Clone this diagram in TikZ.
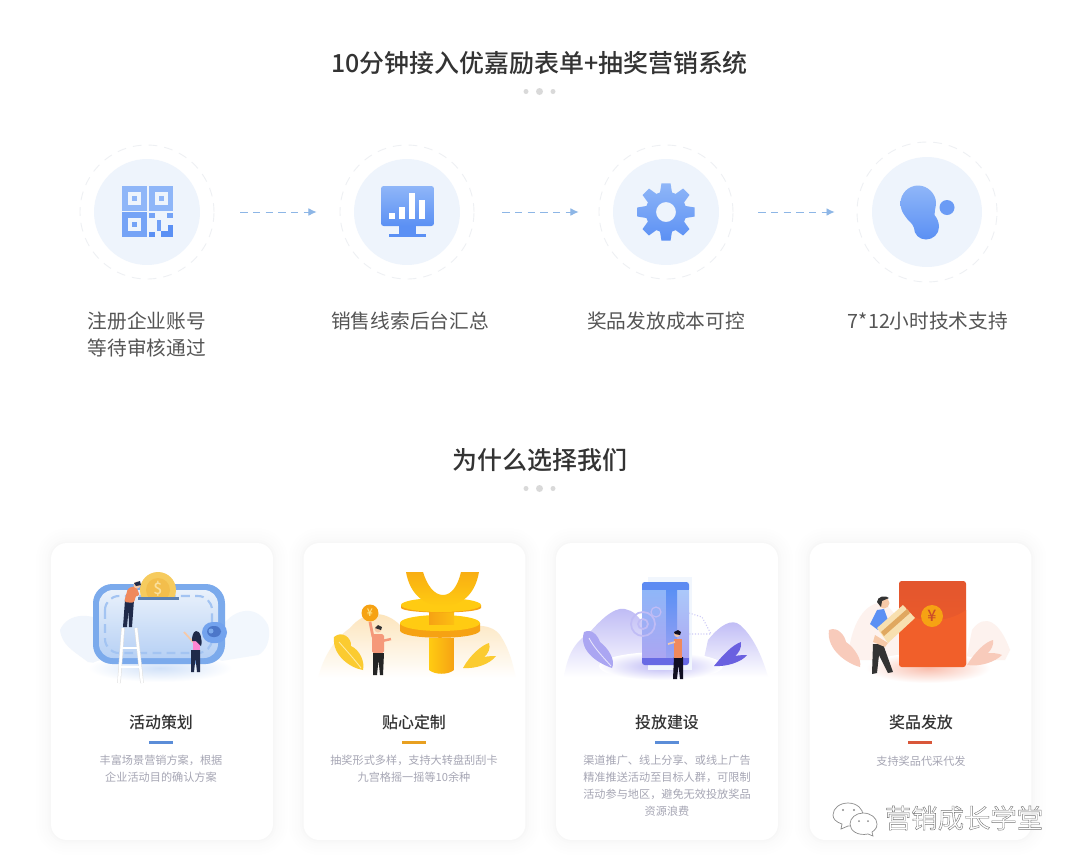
\documentclass[tikz,border=0pt]{standalone}
\usepackage{fontspec}
\setmainfont{Noto Sans CJK SC}[BoldFont={Noto Sans CJK SC Medium}]
\definecolor{titleink}{HTML}{333333}
\definecolor{stepink}{HTML}{555555}
\definecolor{descink}{HTML}{A6A6B4}
\definecolor{discblue}{HTML}{EEF4FC}
\definecolor{ringgrey}{HTML}{EEF0F3}
\definecolor{arrowblue}{HTML}{8DB6E6}
\definecolor{icontop}{HTML}{8FB6F8}
\definecolor{iconlow}{HTML}{5B90F4}
\definecolor{walletblue}{HTML}{7BAAEC}
\definecolor{paleblue}{HTML}{E9F1FB}
\definecolor{navyink}{HTML}{1F2A4A}
\definecolor{skin}{HTML}{F6C9A8}
\definecolor{shirtorange}{HTML}{F0895C}
\definecolor{coinpale}{HTML}{F6CB5E}
\definecolor{coinface}{HTML}{F3BE4C}
\definecolor{goldlight}{HTML}{FFCB12}
\definecolor{golddark}{HTML}{F6A213}
\definecolor{purplelight}{HTML}{ABA6F2}
\definecolor{purpledark}{HTML}{6A60E0}
\definecolor{redbag}{HTML}{EF5A30}
\definecolor{pinkleaf}{HTML}{F8CBBB}
\definecolor{cardtan}{HTML}{F8E0B0}
\definecolor{cardstripe}{HTML}{E0A860}
\definecolor{barblue}{HTML}{5B8DD8}
\definecolor{bargold}{HTML}{E8A020}
\definecolor{barred}{HTML}{D9573A}
\tikzset{
    cardbox/.style={rectangle, rounded corners=9pt, fill=white, inner sep=0pt,
        minimum width=4.44cm, minimum height=5.94cm,
        preaction={draw=black, draw opacity=0.003, line width=30*0.567pt},
        preaction={draw=black, draw opacity=0.004, line width=24*0.567pt},
        preaction={draw=black, draw opacity=0.004, line width=18*0.567pt},
        preaction={draw=black, draw opacity=0.005, line width=12*0.567pt},
        preaction={draw=black, draw opacity=0.006, line width=7*0.567pt},
        preaction={draw=black, draw opacity=0.008, line width=3*0.567pt}},
    headline/.style={font=\fontsize{14.2pt}{17pt}\selectfont\bfseries, text=titleink, inner sep=0pt},
    dotsmall/.style={circle, fill=black!15, inner sep=0pt, minimum size=0.1cm},
    dotbig/.style={circle, fill=black!15, inner sep=0pt, minimum size=0.14cm},
    disc/.style={circle, fill=discblue, inner sep=0pt, minimum size=2.12cm},
    ring/.style={circle, draw=ringgrey, dash pattern=on 5pt off 4pt, line width=0.5pt, inner sep=0pt, minimum size=2.68cm},
    flow/.style={draw=arrowblue, line width=0.55pt, yshift=0.02cm, dash pattern=on 4.2pt off 3pt, -{Latex[length=4.6pt,width=4.4pt]}},
    steplabel/.style={font=\fontsize{11.2pt}{15.3pt}\selectfont, text=stepink, align=center, inner sep=0pt},
    cardtitle/.style={font=\fontsize{9.1pt}{11pt}\selectfont\bfseries, text=titleink, inner sep=0pt},
    carddesc/.style={font=\fontsize{6.35pt}{9.64pt}\selectfont, text=descink, align=center, inner sep=0pt},
    iconfill/.style={top color=icontop, bottom color=iconlow},
}
\usetikzlibrary{arrows.meta}

\begin{document}
\begin{tikzpicture}[x=0.02cm, y=-0.02cm]
    \fill [white] (0, 0) rectangle (1080, 867);
    \useasboundingbox (0, 0) rectangle (1080, 867);

    \node [headline] (headflow) at (539.5, 63) {10分钟接入优嘉励表单+抽奖营销系统};
    \node [dotsmall] (dota1) at (526, 91.5) {};
    \node [dotbig] (dota2) at (539.5, 91.5) {};
    \node [dotsmall] (dota3) at (553, 91.5) {};

    \node [ring] (ringa) at (147, 212) {};
    \node [ring] (ringb) at (407, 212) {};
    \node [ring] (ringc) at (666, 212) {};
    \node [ring, minimum size=2.8cm] (ringd) at (927, 212) {};
    \node [disc] (disca) at (147, 212) {};
    \node [disc] (discb) at (407, 212) {};
    \node [disc] (discc) at (666, 212) {};
    \node [disc, minimum size=2.2cm] (discd) at (927, 212) {};

    \draw [flow, shorten <=0.52cm, shorten >=0.46cm] (ringa) -- (ringb);
    \draw [flow, shorten <=0.56cm, shorten >=0.40cm] (ringb) -- (ringc);
    \draw [flow, shorten <=0.50cm, shorten >=0.44cm] (ringc) -- (ringd);

    % code squares
    \fill [icontop] (122, 186) rectangle (147, 210.5);
    \fill [icontop] (148.5, 186) rectangle (173, 210.5);
    \fill [icontop!50!iconlow] (122, 212) rectangle (147, 237);
    \fill [discblue] (127.5, 192) rectangle (140.5, 204.5);
    \fill [icontop] (131.5, 196) rectangle (136.5, 200.5);
    \fill [discblue] (155, 192) rectangle (168, 204.5);
    \fill [icontop] (159, 196) rectangle (164, 200.5);
    \fill [discblue] (127.5, 218) rectangle (140.5, 231);
    \fill [icontop!50!iconlow] (131.5, 222) rectangle (136.5, 227);
    \fill [icontop!50!iconlow] (149, 213) rectangle (155, 218);
    \fill [icontop!50!iconlow] (167, 213) rectangle (173, 218);
    \fill [icontop!40!iconlow] (157, 220) rectangle (161, 231);
    \fill [iconlow] (149, 232) rectangle (155, 237);
    \fill [iconlow] (161, 231) rectangle (173, 237);
    \fill [iconlow] (168, 225) rectangle (173, 237);

    % screen
    \shade [iconfill, rounded corners=1.5pt] (381, 186) rectangle (434, 226);
    \fill [iconlow] (399, 226) rectangle (416, 235);
    \fill [iconlow] (389, 234) rectangle (426, 237);
    \fill [white] (389, 213) rectangle (395, 219);
    \fill [white] (399, 207) rectangle (405, 219);
    \fill [white] (409, 193) rectangle (415, 219);
    \fill [white] (419, 200) rectangle (425, 219);

    % gear
    \shade [iconfill, even odd rule, shift={(666, 212)}] (-17:20.5)
        \foreach \a in {0, 45, ..., 315} { -- (\a-17:20.5) -- (\a-9:29) -- (\a+9:29) -- (\a+17:20.5) }
        -- cycle (0, 0) circle [radius=10];

    % blob
    \shade [iconfill] (918, 185.5) .. controls (928, 185.5) and (936, 194) .. (936, 203)
        .. controls (936, 208) and (934, 211) .. (934.5, 215)
        .. controls (937, 218) and (939, 222) .. (939, 227)
        .. controls (939, 234) and (933, 239.5) .. (926, 239.5)
        .. controls (919, 239.5) and (914, 234) .. (914, 228)
        .. controls (912, 222) and (908, 221) .. (905, 216)
        .. controls (902, 212) and (900.5, 208) .. (900.5, 203)
        .. controls (900.5, 194) and (908, 185.5) .. (918, 185.5) -- cycle;
    \fill [iconlow!70!icontop] (947, 207.5) circle [radius=7.5];

    \node [steplabel] (stepa) at (147, 334.5) {注册企业账号\\等待审核通过};
    \node [steplabel] (stepb) at (410, 321) {销售线索后台汇总};
    \node [steplabel] (stepc) at (666, 321) {奖品发放成本可控};
    \node [steplabel] (stepd) at (928, 321) {7*12小时技术支持};

    \node [headline] (headwhy) at (540, 460) {为什么选择我们};
    \node [dotsmall] (dotb1) at (526, 488.5) {};
    \node [dotbig] (dotb2) at (539.5, 488.5) {};
    \node [dotsmall] (dotb3) at (553, 488.5) {};

    \node [cardbox] (carda) at (162, 691.5) {};
    \node [cardbox] (cardb) at (414.5, 691.5) {};
    \node [cardbox] (cardc) at (667, 691.5) {};
    \node [cardbox] (cardd) at (920.5, 691.5) {};

    % wallet card
    \fill [paleblue!70!white] (60, 630) .. controls (68, 612) and (92, 612) .. (110, 625) -- (110, 665) -- (88, 662) .. controls (72, 650) and (62, 645) .. (60, 630) -- cycle;
    \fill [paleblue!60!white] (215, 640) .. controls (225, 610) and (255, 600) .. (268, 625) .. controls (272, 640) and (265, 652) .. (258, 655) -- (215, 662) -- cycle;
    \shade [inner color=walletblue!35!white, outer color=white] (160, 668) ellipse [x radius=72, y radius=14];
    \fill [walletblue, rounded corners=11pt] (93, 584) rectangle (225, 664);
    \shade [top color=paleblue, bottom color=walletblue!55!white, rounded corners=8pt] (99, 590) rectangle (218, 658);
    \draw [walletblue!70!white, line width=1.2pt, dash pattern=on 5pt off 3pt, rounded corners=8pt] (105, 596) rectangle (212, 653);
    \begin{scope}
        \clip (130, 560) rectangle (190, 598);
        \fill [coinpale] (158, 590) circle [radius=18];
        \fill [coinface] (158, 590) circle [radius=12];
    \end{scope}
    \node [inner sep=0pt, font=\fontsize{9pt}{9pt}\selectfont\bfseries, text=coinpale!60!white] (coina) at (158, 589) {\$};
    \fill [black!25!walletblue] (138, 597) rectangle (179, 600);
    \draw [black!12, line width=2pt] (123, 628) -- (119, 683);
    \draw [black!12, line width=2pt] (136, 628) -- (142, 683);
    \draw [white, line width=1.4pt] (123, 628) -- (119, 683);
    \draw [white, line width=1.4pt] (136, 628) -- (142, 683);
    \draw [white, line width=1.4pt] (122, 648) -- (137, 648);
    \draw [white, line width=1.4pt] (121, 667) -- (139, 667);
    \fill [navyink] (125, 600) -- (134, 600) -- (132, 627) -- (129, 627) -- (128.5, 610) -- (127, 627) -- (123, 627) -- cycle;
    \fill [shirtorange, rounded corners=1.5pt] (124, 602) -- (128, 588) -- (136, 586) -- (140, 596) -- (136, 595) -- (134, 603) -- cycle;
    \fill [skin] (137, 585) circle [radius=3.5];
    \fill [navyink] (134, 583) -- (140, 581) -- (141, 585) -- (136, 586) -- cycle;
    \fill [walletblue!75!iconlow, rounded corners=6pt] (202, 622) rectangle (227, 643);
    \fill [iconlow!75!navyink, rounded corners=3.5pt] (207, 626) rectangle (221, 637);
    \fill [walletblue] (211, 631) circle [radius=2.5];
    \draw [skin, line width=1pt] (194, 643) -- (184, 632);
    \fill [navyink] (191, 650) -- (200, 650) -- (200, 672) -- (197, 672) -- (195.5, 658) -- (194, 672) -- (191, 672) -- cycle;
    \fill [pink!70!magenta] (193, 641) rectangle (200, 650);
    \fill [navyink] (196, 631) .. controls (200, 630) and (203, 640) .. (201, 646) -- (196, 641) -- (192, 641) .. controls (192, 636) and (193, 632) .. (196, 631) -- cycle;
    \node [cardtitle] (titlea) at (161, 722) {活动策划};
    \fill [barblue] (149, 741) rectangle (173, 744);
    \node [carddesc] (desca) at (161, 769) {丰富场景营销方案，根据\\企业活动目的确认方案};

    % yen card
    \shade [top color=golddark!30!white, bottom color=white] (318, 678) .. controls (325, 650) and (340, 635) .. (350, 628)
        .. controls (365, 610) and (385, 610) .. (400, 625) -- (450, 630) .. controls (470, 625) and (490, 622) .. (500, 635)
        .. controls (510, 650) and (513, 665) .. (516, 678) -- cycle;
    \fill [goldlight!60!coinpale] (334, 637) .. controls (342, 630) and (352, 638) .. (351, 646)
        .. controls (360, 650) and (365, 662) .. (363, 670) .. controls (350, 668) and (332, 655) .. (334, 637) -- cycle;
    \draw [white!60!goldlight, line width=0.5pt] (339, 642) .. controls (346, 650) and (355, 660) .. (361, 668);
    \fill [goldlight!60!coinpale] (463, 668) .. controls (470, 655) and (482, 645) .. (489, 643) .. controls (491, 648) and (488, 654) .. (484, 657)
        .. controls (489, 656) and (493, 656) .. (496, 656) .. controls (490, 664) and (476, 669) .. (463, 668) -- cycle;
    \shade [left color=goldlight, right color=golddark] (429, 638) -- (454, 638) -- (454, 670) .. controls (448, 675) and (435, 675) .. (429, 670) -- cycle;
    \fill [golddark] (400, 623) .. controls (400, 628) and (400, 630) .. (400, 631) .. controls (405, 640) and (475, 640) .. (480, 631) -- (480, 623) -- cycle;
    \fill [goldlight] (440, 623) ellipse [x radius=40, y radius=8];
    \shade [left color=golddark, right color=goldlight!70!golddark] (429, 610) rectangle (454, 624);
    \fill [golddark] (401, 605) -- (401, 608) .. controls (405, 614) and (477, 614) .. (481, 608) -- (481, 605) -- cycle;
    \fill [goldlight] (441, 605) ellipse [x radius=40, y radius=7];
    \shade [top color=golddark!70!goldlight, bottom color=goldlight] (406, 572) .. controls (410, 595) and (425, 606) .. (443, 606)
        .. controls (461, 606) and (475, 595) .. (479, 572) -- (461, 572)
        .. controls (458, 585) and (452, 595) .. (443, 595) .. controls (434, 595) and (427, 585) .. (423, 572) -- cycle;
    \fill [golddark] (370, 613) circle [radius=8.5];
    \node [inner sep=0pt, font=\fontsize{6pt}{6pt}\selectfont\bfseries, text=goldlight!50!white] (coinb) at (370, 613) {¥};
    \draw [shirtorange!70!pink, line width=1.6pt] (373, 637) -- (370, 622);
    \draw [shirtorange!70!pink, line width=1.4pt] (382, 641) -- (391, 639);
    \fill [shirtorange!70!pink, rounded corners=1pt] (372, 634) rectangle (384, 653);
    \fill [titleink!70!black] (373, 653) -- (384, 653) -- (383, 675) -- (380, 675) -- (378.5, 660) -- (377, 675) -- (373, 675) -- cycle;
    \fill [skin] (378, 629) circle [radius=3.5];
    \fill [titleink] (375, 628) -- (378, 625) -- (382, 627) -- (381, 630) -- cycle;
    \node [cardtitle] (titleb) at (414, 722) {贴心定制};
    \fill [bargold] (402, 741) rectangle (426, 744);
    \node [carddesc] (descb) at (414, 769) {抽奖形式多样，支持大转盘刮刮卡\\九宫格摇一摇等10余种};

    % phone card
    \shade [top color=purplelight!80!white, bottom color=white] (564, 677) .. controls (568, 650) and (578, 640) .. (590, 632)
        .. controls (605, 615) and (618, 605) .. (628, 610) .. controls (636, 612) and (640, 620) .. (645, 625) -- (645, 677) -- cycle;
    \shade [top color=purplelight!80!white, bottom color=white] (700, 677) -- (708, 640) .. controls (720, 625) and (732, 618) .. (740, 625) .. controls (752, 635) and (762, 655) .. (768, 677) -- cycle;
    \shade [inner color=purplelight!80!white, outer color=white] (661, 666) ellipse [x radius=62, y radius=14];
    \fill [discblue!80!white] (648, 577) rectangle (692, 670);
    \fill [iconlow!90!purpledark, rounded corners=1.5pt] (642, 582) rectangle (689, 592);
    \fill [purpledark!80!iconlow, rounded corners=1.5pt] (642, 655) rectangle (689, 665);
    \shade [top color=icontop, bottom color=purplelight] (642, 590) rectangle (666, 657);
    \shade [top color=icontop!75!white, bottom color=purplelight] (677, 590) rectangle (689, 657);
    \shade [top color=iconlow, bottom color=purplelight!80!iconlow] (666, 590) rectangle (677, 657);
    \draw [purplelight!75!white, line width=1pt] (643, 624) circle [radius=12];
    \draw [purplelight!75!white, line width=1pt] (643, 624) circle [radius=5];
    \draw [purplelight!75!white, line width=0.7pt] (656, 612) circle [radius=5];
    \draw [purplelight!60!white, densely dotted, line width=0.6pt] (689, 613) -- (702, 617) -- (711, 634) -- (689, 634);
    \fill [black!85!purpledark] (674, 657) -- (683, 657) -- (683, 679) -- (680, 679) -- (678.5, 665) -- (677, 679) -- (673, 679) -- cycle;
    \fill [shirtorange] (674, 639) rectangle (682, 658);
    \draw [skin, line width=1pt] (675, 642) -- (668, 644);
    \fill [skin] (677, 634) circle [radius=3];
    \fill [black!85!purpledark] (674, 632) -- (678, 630) -- (681, 632) -- (680, 635) -- (675, 634) -- cycle;
    \fill [purplelight] (584, 632) .. controls (592, 628) and (598, 636) .. (600, 642)
        .. controls (608, 648) and (616, 660) .. (612, 668) .. controls (600, 664) and (578, 652) .. (584, 632) -- cycle;
    \draw [white!70!purplelight, line width=0.5pt] (589, 638) .. controls (594, 648) and (604, 658) .. (611, 666);
    \fill [purpledark] (714, 666) .. controls (722, 656) and (732, 645) .. (741, 642) .. controls (742, 648) and (738, 654) .. (735, 656)
        .. controls (740, 655) and (744, 655) .. (747, 655) .. controls (742, 662) and (726, 667) .. (714, 666) -- cycle;
    \node [cardtitle] (titlec) at (667, 722) {投放建设};
    \fill [barblue] (655, 741) rectangle (679, 744);
    \node [carddesc] (descc) at (667, 786) {渠道推广、线上分享、或线上广告\\精准推送活动至目标人群，可限制\\活动参与地区，避免无效投放奖品\\资源浪费};

    % envelope card
    \fill [pinkleaf!25!white] (848, 660) .. controls (850, 625) and (865, 600) .. (885, 603) -- (900, 620) -- (900, 660) -- cycle;
    \fill [pinkleaf!25!white] (966, 660) -- (972, 630) .. controls (985, 612) and (1000, 622) .. (1010, 650) -- (1005, 660) -- cycle;
    \shade [inner color=redbag!40!white, outer color=white] (928, 668) ellipse [x radius=62, y radius=15];
    \fill [pinkleaf] (829, 630) .. controls (838, 626) and (845, 636) .. (846, 642)
        .. controls (855, 648) and (862, 660) .. (860, 667) .. controls (848, 664) and (826, 650) .. (829, 630) -- cycle;
    \fill [pinkleaf] (967, 665) .. controls (975, 652) and (985, 642) .. (993, 640) .. controls (994, 645) and (991, 650) .. (988, 653)
        .. controls (992, 653) and (998, 653) .. (1002, 655) .. controls (995, 662) and (980, 667) .. (967, 665) -- cycle;
    \shade [top color=redbag!95!black, bottom color=redbag!85!orange, rounded corners=1.5pt] (899, 581) rectangle (966, 667);
    \fill [redbag!88!orange] (899, 610) .. controls (915, 622) and (945, 625) .. (966, 610) -- (966, 664) -- (899, 664) -- cycle;
    \fill [golddark] (932, 616) circle [radius=11];
    \node [inner sep=0pt, font=\fontsize{9pt}{9pt}\selectfont\bfseries, text=redbag!85!black] (coind) at (932, 616) {¥};
    \fill [titleink] (873, 644) -- (883, 644) -- (893, 672) -- (888, 673) -- (879, 655) -- (877, 673) -- (872, 674) -- cycle;
    \fill [iconlow] (870, 624) -- (877, 610) -- (884, 609) -- (888, 620) -- (878, 630) -- cycle;
    \fill [skin] (884, 603) circle [radius=5.5];
    \fill [titleink] (877, 602) .. controls (877, 596) and (886, 595) .. (889, 598) -- (882, 601) -- (881, 607) -- cycle;
    \fill [cardtan] (877, 628) -- (903, 605) -- (915, 618) -- (888, 643) -- cycle;
    \fill [cardstripe] (881, 632) -- (907, 609) -- (910, 613) -- (884, 636) -- cycle;
    \fill [skin] (875, 635) -- (888, 643) -- (885, 647) -- (873, 642) -- cycle;
    \node [cardtitle] (titled) at (921, 722) {奖品发放};
    \fill [barred] (908, 741) rectangle (932, 744);
    \node [carddesc] (descd) at (921, 761) {支持奖品代采代发};

    % chat mark
    \draw [black!45, fill=white, line width=0.4pt] (848, 803) .. controls (857, 803) and (863, 809) .. (863, 815)
        .. controls (863, 821) and (857, 826) .. (848, 826) -- (841, 829) -- (842, 824)
        .. controls (836, 822) and (833, 819) .. (833, 815) .. controls (833, 808) and (840, 803) .. (848, 803) -- cycle;
    \draw [black!45, fill=white, line width=0.4pt] (863, 813) .. controls (871, 813) and (877, 818) .. (877, 824)
        .. controls (877, 828) and (875, 830) .. (872, 832) -- (873, 836) -- (868, 834)
        .. controls (858, 836) and (850, 831) .. (850, 824) .. controls (850, 818) and (856, 813) .. (863, 813) -- cycle;
    \fill [black!45] (843, 810) circle [radius=1.2];
    \fill [black!45] (854, 810) circle [radius=1.2];
    \fill [black!45] (859, 821) circle [radius=1];
    \fill [black!45] (868, 821) circle [radius=1];
    \node [inner sep=0pt, font=\fontsize{15pt}{18pt}\selectfont] (markname) at (964, 818)
        {\color{white}\special{pdf:code 2 Tr 0.22 w 0.45 G}营销成长学堂\special{pdf:code 0 Tr}};
\end{tikzpicture}
\end{document}
